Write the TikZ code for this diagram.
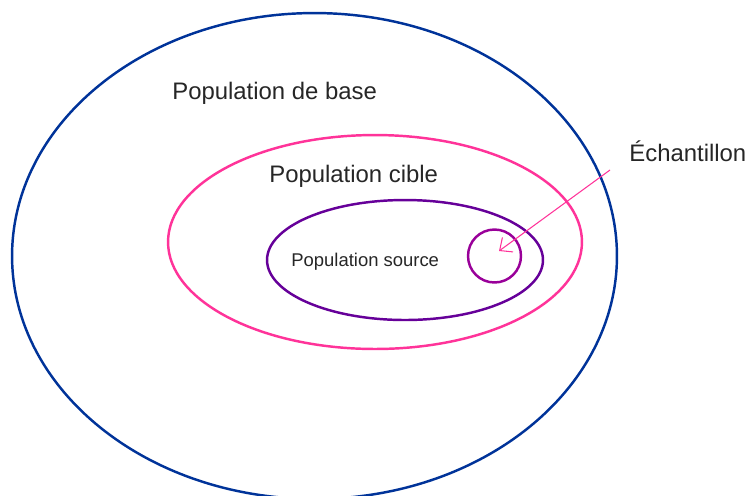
\documentclass[tikz,border=0pt]{standalone}
\usepackage{fontspec}
\setmainfont{Liberation Sans}
\usetikzlibrary{arrows.meta}
\usetikzlibrary{shapes.geometric}

\definecolor{bleubase}{RGB}{0,51,153}
\definecolor{rosecible}{RGB}{255,51,153}
\definecolor{violetsource}{RGB}{102,0,153}
\definecolor{violetech}{RGB}{153,0,153}

\begin{document}
\begin{tikzpicture}[x=0.02cm, y=-0.02cm,
  zone/.style={shape=ellipse, inner sep=0pt, line width=1.4pt},
  etiquette/.style={anchor=base west, inner sep=0pt, text=black!85},
  fleche/.style={rosecible, line width=0.6pt, -{Straight Barb[length=2mm,width=3.6mm]}}]

\useasboundingbox (0,0) rectangle (749,495);

\node (base) [zone, draw=bleubase, minimum width=12.1cm, minimum height=9.72cm] at (314.5, 256) {};

\node (cible) [zone, draw=rosecible, minimum width=8.28cm, minimum height=4.28cm] at (375, 242) {};

\node (source) [zone, draw=violetsource, minimum width=5.52cm, minimum height=2.4cm] at (405, 260) {};

\node (echcercle) [zone, draw=violetech, minimum width=1.06cm, minimum height=1.06cm] at (494.5, 256) {};


\node (txtbase) [etiquette, font=\fontsize{13.6}{16}\selectfont] at (172, 99) {Population de base};

\node (txtcible) [etiquette, font=\fontsize{13.6}{16}\selectfont] at (269, 182) {Population cible};

\node (txtsource) [etiquette, font=\fontsize{10.5}{12}\selectfont] at (291, 266) {Population source};

\node (txtech) [etiquette, font=\fontsize{13.6}{16}\selectfont] at (629, 161) {Échantillon};


\coordinate (depart) at (610, 170);
\coordinate (pointe) at (499, 251);

\draw[fleche] (depart) -- (pointe);

\end{tikzpicture}
\end{document}
